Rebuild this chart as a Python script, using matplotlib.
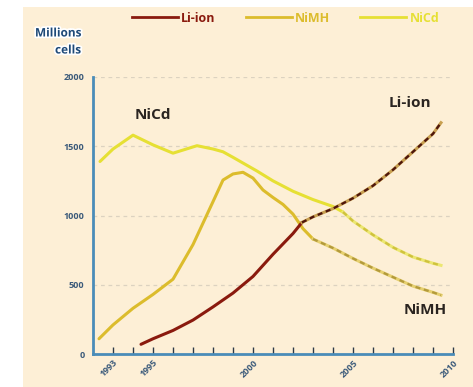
import matplotlib
matplotlib.use("Agg")
import matplotlib.pyplot as plt
import matplotlib.patheffects as pe
from matplotlib.lines import Line2D

# Worldwide battery cell production (millions of cells); later years are projections
liion_years = [1994.4, 1995, 1996, 1997, 1998, 1999, 2000, 2001, 2002, 2002.45,
               2003, 2004, 2005, 2006, 2007, 2008, 2009, 2009.4]
liion_vals = [70, 110, 170, 245, 340, 440, 560, 720, 870, 950,
              990, 1050, 1125, 1215, 1330, 1460, 1590, 1670]
liion_proj_from = 2002.45

nimh_years = [1992.3, 1993, 1994, 1995, 1996, 1997, 1998, 1998.5, 1999, 1999.5,
              2000, 2000.5, 2001, 2001.5, 2002, 2002.5, 2003, 2004, 2005, 2006,
              2007, 2008, 2009, 2009.4]
nimh_vals = [110, 210, 330, 430, 540, 790, 1100, 1256, 1300, 1312,
             1270, 1184, 1130, 1080, 1010, 905, 830, 765, 690, 620,
             555, 490, 445, 425]
nimh_proj_from = 2003

nicd_years = [1992.35, 1993, 1994, 1995, 1996, 1997.2, 1998, 1998.5, 1999, 2000.2,
              2001, 2002, 2003, 2004, 2004.5, 2005, 2006, 2007, 2008, 2009, 2009.4]
nicd_vals = [1390, 1480, 1580, 1510, 1450, 1504, 1480, 1460, 1420, 1321,
             1250, 1175, 1115, 1065, 1025, 960, 860, 770, 700, 655, 640]
nicd_proj_from = 2004.5

series_names = ["Li-ion", "NiMH", "NiCd"]
y_ticks = [0, 500, 1000, 1500, 2000]
x_tick_years = list(range(1993, 2011))
x_label_years = [1993, 1995, 2000, 2005, 2010]

BG = "#fdefd6"
C_LIION = "#8a1a0e"
C_NIMH = "#dcbc2c"
C_NICD = "#e6e034"
AXIS_BLUE = "#4a8cb8"
TICK_TXT = "#3b5a7a"

W, H = 473, 387
fig = plt.figure(figsize=(W / 100, H / 100), dpi=100)
fig.patch.set_facecolor("white")
# cream panel behind the whole chart
fig.patches.append(plt.Rectangle((23 / W, 0), 1 - 23 / W, 1 - 7 / H,
                                 transform=fig.transFigure, facecolor=BG,
                                 edgecolor="none", zorder=-10))

ax = fig.add_axes([93 / W, 33 / H, 360 / W, 277 / H])
ax.set_zorder(1)
ax.set_facecolor("none")
ax.set_xlim(1992, 2010)
ax.set_ylim(0, 2000)


def split(years, vals, cut):
    solid = [(x, y) for x, y in zip(years, vals) if x <= cut]
    proj = [(x, y) for x, y in zip(years, vals) if x >= cut]
    return list(zip(*solid)), list(zip(*proj))


def draw(years, vals, cut, color, under_color, dash_color, lw=2.2):
    (sx, sy), (px, py) = split(years, vals, cut)
    ax.plot(sx, sy, color=color, lw=lw, solid_joinstyle="round",
            solid_capstyle="round", zorder=3)
    ax.plot(px, py, color=under_color, lw=lw, solid_joinstyle="round",
            zorder=3)
    ax.plot(px, py, color=dash_color, lw=lw * 0.75, ls=(0, (2.2, 1.6)), zorder=4)


draw(nicd_years, nicd_vals, nicd_proj_from, C_NICD, "#ece772", "#cfc23e")
draw(nimh_years, nimh_vals, nimh_proj_from, C_NIMH, "#e6d070", "#b39a3c")
draw(liion_years, liion_vals, liion_proj_from, C_LIION, "#c8a050", "#4e150c")

# dashed horizontal guides
for v in y_ticks[1:]:
    ax.axhline(v, color="#dcd2c0", lw=0.9, ls=(0, (3, 3)), zorder=1)

for s in ["top", "right"]:
    ax.spines[s].set_visible(False)
for s in ["left", "bottom"]:
    ax.spines[s].set_color(AXIS_BLUE)
    ax.spines[s].set_linewidth(2)

ax.set_yticks(y_ticks)
ax.set_yticklabels([str(v) for v in y_ticks])
ax.tick_params(axis="y", length=0, pad=6, labelsize=6.5, labelcolor=TICK_TXT)
ax.set_xticks(x_tick_years)
ax.set_xticklabels([str(y) if y in x_label_years else "" for y in x_tick_years])
ax.tick_params(axis="x", direction="in", length=5, width=1, color="#2c3a48",
               labelsize=6.5, labelcolor=TICK_TXT, pad=3)
for lab in ax.get_xticklabels():
    lab.set_rotation(45)
    lab.set_ha("right")
    lab.set_va("top")
    lab.set_rotation_mode("anchor")
for lab in ax.get_yticklabels() + ax.get_xticklabels():
    lab.set_fontweight("bold")
    lab.set_fontfamily("Open Sans")

# series names beside the curves
lab_kw = dict(fontsize=11, fontweight="bold", color="#2a2420",
              family="Open Sans", ha="center", va="center")
ax.text(1995.0, 1725, "NiCd", **lab_kw)
ax.text(2007.85, 1810, "Li-ion", **lab_kw)
ax.text(2008.6, 318, "NiMH", **lab_kw)

# legend across the top
handles = [Line2D([], [], color=c, lw=2) for c in (C_LIION, C_NIMH, C_NICD)]
leg = fig.legend(handles, series_names, ncol=3, frameon=False,
                 loc="center left", bbox_to_anchor=(128 / W, 1 - 18 / H),
                 borderaxespad=0, borderpad=0.3,
                 handlelength=3.7, handletextpad=0.25, columnspacing=2.4,
                 prop={"family": "Open Sans", "weight": "bold", "size": 9},
                 labelcolor=[C_LIION, C_NIMH, C_NICD])

unit_kw = dict(fontsize=8.5, fontweight="bold", color="#1f4a78",
               family="Open Sans",
               path_effects=[pe.withStroke(linewidth=2.5, foreground="white")])
fig.text(35 / W, 1 - 33 / H, "Millions", ha="left", va="center", **unit_kw)
fig.text(81 / W, 1 - 50 / H, "cells", ha="right", va="center", **unit_kw)

fig.savefig("out.png", dpi=100, facecolor=fig.get_facecolor())
